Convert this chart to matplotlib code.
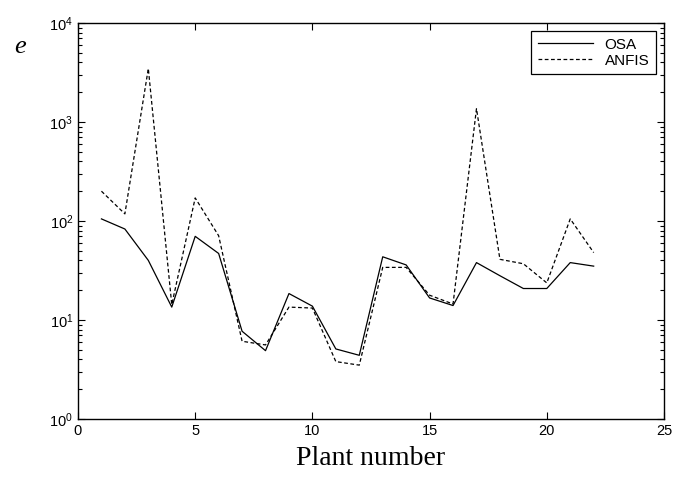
import matplotlib
matplotlib.use("Agg")
import matplotlib.pyplot as plt
from matplotlib.ticker import LogLocator, NullFormatter

plt.rcParams["mathtext.fontset"] = "custom"
plt.rcParams["mathtext.rm"] = "Liberation Sans"
plt.rcParams["mathtext.it"] = "Liberation Sans:italic"

# plant numbers and errors for each method
plant = list(range(1, 23))
osa = [105, 83, 40, 13.5, 70, 47, 7.7, 4.9, 18.5, 13.8, 5.1, 4.4,
       43.5, 36, 16.7, 14, 38, 28, 20.8, 20.8, 38, 35]
anfis = [200, 118, 3470, 14.3, 171, 71, 6.1, 5.6, 13.5, 13.2, 3.8, 3.5,
         34, 34, 17.8, 14.5, 1365, 41, 37, 23.7, 105, 48]

fig = plt.figure(figsize=(6.88, 4.79), dpi=100)
ax = fig.add_axes([78 / 688, 1 - 419 / 479, 586 / 688, 396 / 479])

ax.semilogy(plant, osa, "k-", lw=0.9, label="OSA")
ax.semilogy(plant, anfis, "k--", lw=0.9, dashes=(3, 2), label="ANFIS")

ax.set_xlim(0, 25)
ax.set_ylim(1, 1e4)
ax.set_xticks([0, 5, 10, 15, 20, 25])
ax.yaxis.set_major_locator(LogLocator(base=10, numticks=10))
ax.yaxis.set_minor_locator(LogLocator(base=10, subs=range(2, 10), numticks=10))
ax.yaxis.set_minor_formatter(NullFormatter())
ax.tick_params(which="both", direction="in", top=True, right=True,
               labelsize=10.5, width=0.8)
ax.tick_params(which="major", length=5)
ax.tick_params(which="minor", length=3)
for lab in ax.get_xticklabels() + ax.get_yticklabels():
    lab.set_family("Liberation Sans")
for s in ax.spines.values():
    s.set_linewidth(1)

ax.set_xlabel("Plant number", family="Liberation Serif", fontsize=20, labelpad=6)
fig.text(20 / 688, 1 - 47 / 479, "e", family="Liberation Serif", style="italic",
         fontsize=19, ha="center", va="center")

leg = ax.legend(loc="upper right", prop={"family": "Liberation Sans", "size": 11},
                fancybox=False, framealpha=1, edgecolor="k",
                handlelength=3.6, borderaxespad=0.55, labelspacing=0.15,
                borderpad=0.4)
leg.get_frame().set_linewidth(0.9)

fig.savefig("out.png", dpi=100)
